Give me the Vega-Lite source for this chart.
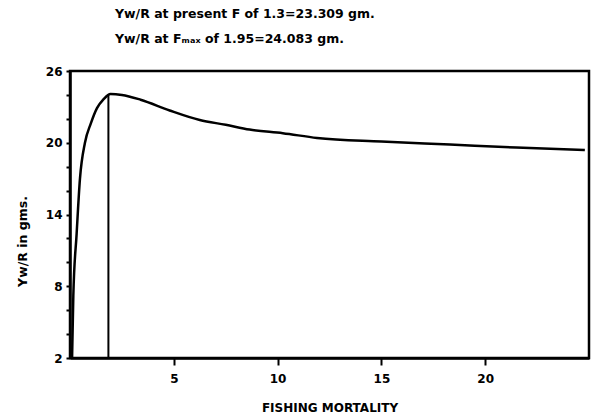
{
  "$schema": "https://vega.github.io/schema/vega-lite/v6.json",
  "autosize": "none",
  "width": 519,
  "height": 287,
  "padding": {"left": 70, "top": 71, "right": 3, "bottom": 56},
  "background": "white",
  "config": {
    "view": {"stroke": "black", "strokeWidth": 2.5},
    "font": "DejaVu Sans",
    "axis": {
      "grid": false,
      "ticks": true,
      "labelOverlap": false,
      "domainColor": "black", "domainWidth": 2.5,
      "tickColor": "black", "tickWidth": 2,
      "labelFont": "DejaVu Sans", "labelFontSize": 12, "labelFontWeight": "bold", "labelColor": "black",
      "titleFont": "DejaVu Sans", "titleFontWeight": "bold", "titleColor": "black"
    }
  },
  "title": {
    "text": ["Yw/R  at present F of 1.3=23.309 gm.", "Yw/R  at  Fₘₐₓ of  1.95=24.083 gm."],
    "anchor": "start",
    "frame": "group",
    "dx": 45,
    "offset": 20,
    "fontSize": 12.5,
    "fontWeight": "bold",
    "lineHeight": 25,
    "color": "black"
  },
  "datasets": {
    "curve": [
      {"F": 0.1, "Y": 2.0},
      {"F": 0.16, "Y": 7.2},
      {"F": 0.32, "Y": 12.4},
      {"F": 0.48, "Y": 17.0},
      {"F": 0.72, "Y": 20.0},
      {"F": 1.0, "Y": 21.6},
      {"F": 1.3, "Y": 22.9},
      {"F": 1.6, "Y": 23.6},
      {"F": 1.95, "Y": 24.08},
      {"F": 2.5, "Y": 24.0},
      {"F": 3.4, "Y": 23.6},
      {"F": 4.8, "Y": 22.7},
      {"F": 6.25, "Y": 21.9},
      {"F": 7.5, "Y": 21.5},
      {"F": 8.65, "Y": 21.1},
      {"F": 10.25, "Y": 20.8},
      {"F": 11.9, "Y": 20.4},
      {"F": 15.0, "Y": 20.1},
      {"F": 18.3, "Y": 19.85},
      {"F": 21.5, "Y": 19.6},
      {"F": 24.8, "Y": 19.4}
    ],
    "fmax": [{"F": 1.85, "Y": 2, "Y2": 24.05}]
  },
  "encoding": {
    "x": {
      "field": "F", "type": "quantitative",
      "scale": {"domain": [0, 25], "nice": false, "zero": false},
      "axis": {
        "title": "FISHING MORTALITY",
        "values": [5, 10, 15, 20],
        "labelOverlap": false,
        "ticks": true,
        "tickSize": 7,
        "labelPadding": 8,
        "titleFontSize": 12,
        "titlePadding": 18
      }
    },
    "y": {
      "field": "Y", "type": "quantitative",
      "scale": {"domain": [2, 26], "nice": false, "zero": false},
      "axis": {
        "title": "Yw/R in gms.",
        "values": [2, 4, 6, 8, 10, 12, 14, 16, 18, 20, 22, 24, 26],
        "labelExpr": "(datum.value - 2) % 6 == 0 ? datum.label : ''",
        "labelOverlap": false,
        "ticks": true,
        "tickSize": 4,
        "labelPadding": 4,
        "titleFontSize": 12.5,
        "titleX": -48, "titleY": 170, "titleAlign": "center", "titleBaseline": "middle", "titleAngle": -90
      }
    }
  },
  "layer": [
    {
      "data": {"name": "curve"},
      "mark": {"type": "line", "color": "black", "strokeWidth": 2.5, "interpolate": "monotone"}
    },
    {
      "data": {"name": "fmax"},
      "mark": {"type": "rule", "color": "black", "strokeWidth": 2},
      "encoding": {
        "y2": {"field": "Y2"}
      }
    }
  ]
}
